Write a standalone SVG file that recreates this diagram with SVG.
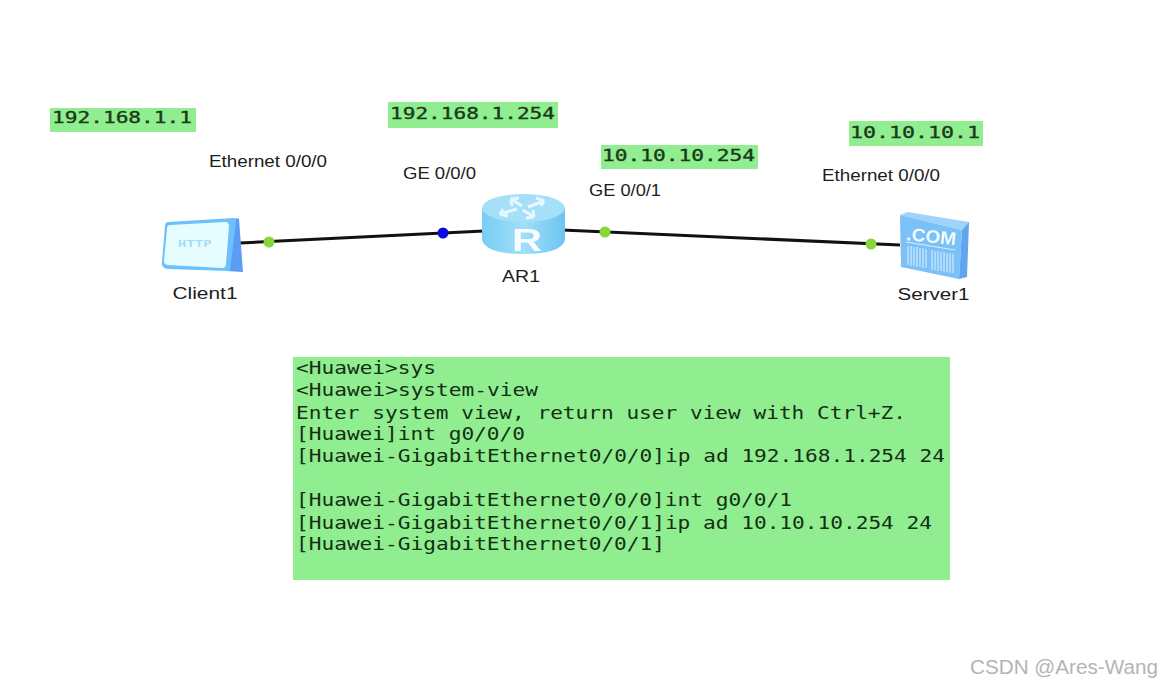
<svg xmlns="http://www.w3.org/2000/svg" width="1162" height="687" viewBox="0 0 1162 687">
<style>
.lab{font-family:"Liberation Sans",Arial,sans-serif;font-size:16px;fill:#1c1c1c}
.ip{font-family:"DejaVu Sans Mono","Liberation Mono",monospace;font-size:16px;fill:#1a3a1a;stroke:#1a3a1a;stroke-width:.35px}
.cli{font-family:"DejaVu Sans Mono","Liberation Mono",monospace;font-size:17px;fill:#143014}
.bg{fill:#90ee90}
.dot{stroke:none}
</style>
<defs>
<linearGradient id="cyl" x1="0" x2="1" y1="0" y2="0"><stop offset="0" stop-color="#78cdf5"/><stop offset=".5" stop-color="#a0dffa"/><stop offset="1" stop-color="#6cc4f0"/></linearGradient>
<filter id="soft" x="-5%" y="-5%" width="110%" height="110%"><feGaussianBlur stdDeviation="0.6"/></filter>
</defs>
<rect width="1162" height="687" fill="#fff"/>
<g id="connectors" stroke="#111" stroke-width="3" fill="none">
<line x1="240" y1="243" x2="484" y2="231"/>
<line x1="562" y1="230" x2="900" y2="245"/>
</g>
<g id="ports">
<circle class="dot" cx="269" cy="242" r="5.500" fill="#86d63c"/>
<circle class="dot" cx="443" cy="233" r="5.500" fill="#0a0adf"/>
<circle class="dot" cx="605" cy="232" r="5.500" fill="#86d63c"/>
<circle class="dot" cx="871" cy="244" r="5.500" fill="#86d63c"/>
</g>
<g id="client1">
<g filter="url(#soft)">
<path d="M236 218 L239 219 L243 272 L226 271 Z" fill="#5b9cf5"/>
<path d="M168 222 L234 218 Q237 218 236 222 L230 271 L168 269 Q161 268 162 262 L165 226 Q165 222 168 222 Z" fill="#6cc0fb"/>
<path d="M170 225 L225 222 Q229 222 229 226 L226 264 Q226 268 222 268 L168 265 Q164 265 164 261 L167 229 Q167 225 170 225 Z" fill="#e6fdff"/>
<text x="178" y="247" font-family="'Liberation Mono',monospace" font-size="11" textLength="34" lengthAdjust="spacingAndGlyphs" fill="#a6dcf5" font-weight="bold">HTTP</text>
</g>
<text class="lab" x="172.500" y="299" textLength="65" lengthAdjust="spacingAndGlyphs">Client1</text>
</g>
<g id="ar1">
<g filter="url(#soft)">
<path d="M482 208 V240 Q486 254 523 254 Q561 254 565 240 V208 Z" fill="url(#cyl)"/>
<ellipse cx="523.500" cy="208" rx="41.500" ry="14" fill="#a6e0f8"/>
<g stroke="#e6f8ff" stroke-width="3" fill="none">
<path d="M511 199 L522 206 M511 199 l1 7 M511 199 l8 -1"/>
<path d="M544 201 L528 207 M544 201 l-8 -3 M544 201 l-3 5"/>
<path d="M500 214 L517 209 M500 214 l8 2 M500 214 l3 -5"/>
<path d="M534 217 L523 210 M534 217 l-8 1 M534 217 l-1 -7"/>
</g>
<text x="512" y="251" font-family="'Liberation Sans',sans-serif" font-size="32" font-weight="bold" textLength="30" lengthAdjust="spacingAndGlyphs" fill="#f6fcff">R</text>
</g>
<text class="lab" x="502" y="282" textLength="38" lengthAdjust="spacingAndGlyphs">AR1</text>
</g>
<g id="server1">
<g filter="url(#soft)">
<path d="M900 215 L908 212 L969 222 L962 230 Z" fill="#9ed4fa"/>
<path d="M900 215 L962 230 L959 279 L901 267 Z" fill="#7cc0f8"/>
<path d="M962 230 L969 222 L967 277 L959 279 Z" fill="#5ea6ef"/>
<text x="906" y="240" font-family="'Liberation Sans',sans-serif" font-size="18" font-weight="bold" textLength="50" lengthAdjust="spacingAndGlyphs" fill="#f2fbff" transform="rotate(6 906 240)">.COM</text>
<path d="M906 242 L955 250" stroke="#d5efff" stroke-width="1" fill="none"/>
<g stroke="#cfeaff" stroke-width="1.200" fill="none">
<path d="M908 246 V265 M911 246 V266 M914 247 V266 M917 247 V267 M920 248 V267 M923 248 V268 M926 249 V268 M932 250 V270 M935 251 V270 M938 251 V271 M941 252 V271 M944 252 V272 M947 253 V272 M950 253 V273 M953 254 V273"/>
</g>
</g>
<text class="lab" x="897.500" y="300" textLength="72" lengthAdjust="spacingAndGlyphs">Server1</text>
</g>
<g id="if-labels">
<text class="lab" x="209" y="167" textLength="118" lengthAdjust="spacingAndGlyphs">Ethernet 0/0/0</text>
<text class="lab" x="403" y="179" textLength="73" lengthAdjust="spacingAndGlyphs">GE 0/0/0</text>
<text class="lab" x="589" y="196" textLength="72" lengthAdjust="spacingAndGlyphs">GE 0/0/1</text>
<text class="lab" x="822" y="181" textLength="118" lengthAdjust="spacingAndGlyphs">Ethernet 0/0/0</text>
</g>
<g id="ip1"><rect class="bg" x="50" y="108" width="146" height="24"/><text class="ip" x="52" y="123" textLength="140" lengthAdjust="spacingAndGlyphs">192.168.1.1</text></g>
<g id="ip2"><rect class="bg" x="388" y="102" width="170" height="26"/><text class="ip" x="390" y="119" textLength="165" lengthAdjust="spacingAndGlyphs">192.168.1.254</text></g>
<g id="ip3"><rect class="bg" x="601" y="145" width="157" height="24"/><text class="ip" x="602" y="161" textLength="153" lengthAdjust="spacingAndGlyphs">10.10.10.254</text></g>
<g id="ip4"><rect class="bg" x="849" y="121" width="134" height="25"/><text class="ip" x="850" y="138" textLength="130" lengthAdjust="spacingAndGlyphs">10.10.10.1</text></g>
<g id="cli">
<rect class="bg" x="293" y="357" width="657" height="223"/>
<text class="cli" x="296" y="374" textLength="140" lengthAdjust="spacingAndGlyphs">&lt;Huawei&gt;sys</text>
<text class="cli" x="296" y="396" textLength="242" lengthAdjust="spacingAndGlyphs">&lt;Huawei&gt;system-view</text>
<text class="cli" x="296" y="419" textLength="610" lengthAdjust="spacingAndGlyphs">Enter system view, return user view with Ctrl+Z.</text>
<text class="cli" x="296" y="440" textLength="229" lengthAdjust="spacingAndGlyphs">[Huawei]int g0/0/0</text>
<text class="cli" x="296" y="462" textLength="649" lengthAdjust="spacingAndGlyphs">[Huawei-GigabitEthernet0/0/0]ip ad 192.168.1.254 24</text>
<text class="cli" x="296" y="506" textLength="496" lengthAdjust="spacingAndGlyphs">[Huawei-GigabitEthernet0/0/0]int g0/0/1</text>
<text class="cli" x="296" y="529" textLength="636" lengthAdjust="spacingAndGlyphs">[Huawei-GigabitEthernet0/0/1]ip ad 10.10.10.254 24</text>
<text class="cli" x="296" y="550" textLength="369" lengthAdjust="spacingAndGlyphs">[Huawei-GigabitEthernet0/0/1]</text>
</g>
<text x="970" y="674" font-family="'Liberation Sans',sans-serif" font-size="20" textLength="188" lengthAdjust="spacingAndGlyphs" fill="#b4b4b4">CSDN @Ares-Wang</text>
</svg>
